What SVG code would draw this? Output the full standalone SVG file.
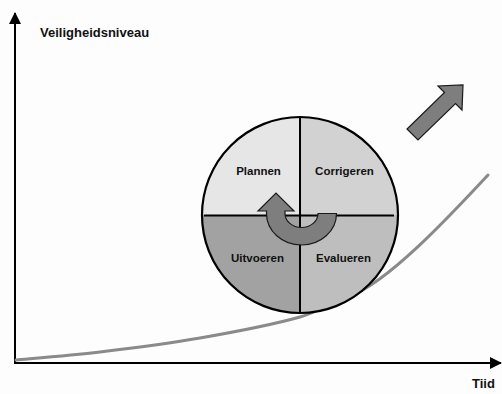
<svg xmlns="http://www.w3.org/2000/svg" width="502" height="394" viewBox="0 0 502 394">
  <style>
    .axis { stroke: #000; stroke-width: 2; fill: none; }
    .label { font-family: "Liberation Sans", Arial, sans-serif; font-weight: bold; fill: #111; }
    .q { stroke: none; }
    .div { stroke: #000; stroke-width: 2; }
    .arrow { fill: #7e7e7e; stroke: #1a1a1a; stroke-width: 1.2; stroke-linejoin: miter; }
  </style>
  <defs>
    <marker id="head" viewBox="0 0 12 12" refX="11" refY="6" markerWidth="12" markerHeight="12" markerUnits="userSpaceOnUse" orient="auto">
      <path d="M0,0 L12,6 L0,12 Z" fill="#000"/>
    </marker>
    <clipPath id="disc">
      <circle cx="300" cy="215" r="98"/>
    </clipPath>
  </defs>

  <rect width="502" height="394" fill="#fdfdfd"/>

  <!-- axes -->
  <g id="axes">
    <line class="axis" x1="15" y1="363" x2="15" y2="13" marker-end="url(#head)"/>
    <line class="axis" x1="14" y1="363" x2="501" y2="363" marker-end="url(#head)"/>
    <text class="label" x="40" y="37" font-size="13">Veiligheidsniveau</text>
    <text class="label" x="472" y="388" font-size="13">Tiid</text>
  </g>

  <!-- connectors: growth curve, passing behind the disc -->
  <g id="connectors">
    <path d="M16,360 C30,358.7 69.3,355.7 100,352 C130.7,348.3 166.7,343.8 200,338 C233.3,332.2 275,324 300,317 C318,312 330,303.4 350,296 C388,282 448,218 488,175" fill="none" stroke="#8a8a8a" stroke-width="3" stroke-linecap="round" stroke-linejoin="round"/>
  </g>

  <!-- PDCA cycle disc -->
  <g id="cycle">
    <g clip-path="url(#disc)">
      <rect class="q" x="200" y="115" width="100" height="100" fill="#e6e6e6"/>
      <rect class="q" x="300" y="115" width="100" height="100" fill="#d2d2d2"/>
      <rect class="q" x="200" y="215" width="100" height="100" fill="#a2a2a2"/>
      <rect class="q" x="300" y="215" width="100" height="100" fill="#bebebe"/>
    </g>
    <line class="div" x1="300" y1="117" x2="300" y2="313"/>
    <line class="div" x1="204" y1="215.5" x2="394" y2="215.5"/>
    <circle cx="300" cy="215" r="98" fill="none" stroke="#000" stroke-width="2.2"/>
  </g>

  <g id="plannen"><text class="label" x="258.5" y="175" font-size="11.5" text-anchor="middle">Plannen</text></g>
  <g id="corrigeren"><text class="label" x="344.5" y="175" font-size="11.5" text-anchor="middle">Corrigeren</text></g>
  <g id="uitvoeren"><text class="label" x="257.5" y="261.5" font-size="11.5" text-anchor="middle">Uitvoeren</text></g>
  <g id="evalueren"><text class="label" x="343.5" y="261.5" font-size="11.5" text-anchor="middle">Evalueren</text></g>

  <!-- U-turn arrow in the centre -->
  <g id="turn">
    <path class="arrow" d="M336.5,213.5 A35,31.5 0 0 1 266.5,213.5 L266.5,211 L258,211 L276,193 L294,211 L285,211 L285,213.5 A16.5,14 0 0 0 318,213.5 Z"/>
  </g>

  <!-- big rising arrow -->
  <g id="rise">
    <polygon class="arrow" points="407,129 418,140 455.5,103.5 462,110 463,85 438,86 444.5,92.5"/>
  </g>
</svg>
